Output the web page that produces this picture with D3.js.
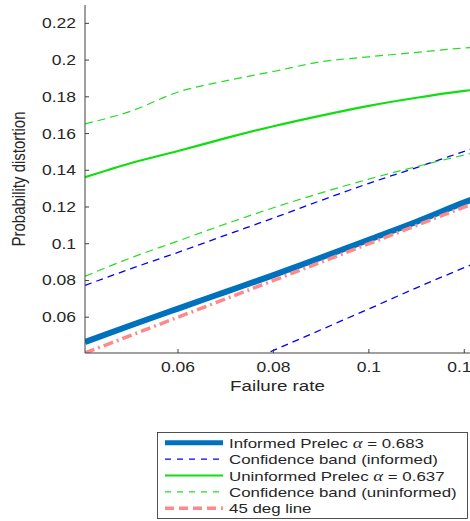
<!DOCTYPE html>
<html lang="en">
<head>
<meta charset="UTF-8">
<title>Probability distortion</title>
<style>
  body { margin: 0; background: #fff; }
  text { font-family: "Liberation Sans", Arial, sans-serif; fill: #262626; }
</style>
</head>
<body>
<svg width="470" height="521"></svg>
<script src="https://d3js.org/d3.v7.min.js"></script>
<script>
// failure rate grid (x)
const failRate = [0.0405, 0.05, 0.06, 0.07, 0.08, 0.09, 0.10, 0.11, 0.12, 0.1225];

// series
const informed      = [0.0465, 0.0555, 0.0647, 0.0738, 0.0829, 0.0925, 0.1022, 0.1120, 0.1225, 0.1250];
const informedHi    = [0.0773, 0.0863, 0.0953, 0.1047, 0.1140, 0.1236, 0.1329, 0.1415, 0.1503, 0.1525];
const informedLo    = [-0.005, 0.0070, 0.0185, 0.0302, 0.0419, 0.0532, 0.0645, 0.0760, 0.0870, 0.0897];
const uninformed    = [0.1362, 0.1438, 0.1505, 0.1575, 0.1640, 0.1698, 0.1751, 0.1795, 0.1832, 0.1840];
const uninformedHi  = [0.1653, 0.1721, 0.1826, 0.1887, 0.1938, 0.1991, 0.2018, 0.2042, 0.2066, 0.2070];
const uninformedLo  = [0.0823, 0.0922, 0.1015, 0.1108, 0.1196, 0.1277, 0.1352, 0.1420, 0.1483, 0.1498];
const diag          = failRate.slice(); // 45 deg line, y = x

const xTicks = [0.06, 0.08, 0.10, 0.12];
const xTickLabels = ["0.06", "0.08", "0.1", "0.12"];
const yTicks = [0.06, 0.08, 0.10, 0.12, 0.14, 0.16, 0.18, 0.20, 0.22];
const yTickLabels = ["0.06", "0.08", "0.1", "0.12", "0.14", "0.16", "0.18", "0.2", "0.22"];

const legendLabels = [
  ["Informed Prelec ", "α", " = 0.683"],
  ["Confidence band (informed)"],
  ["Uninformed Prelec ", "α", " = 0.637"],
  ["Confidence band (uninformed)"],
  ["45 deg line"]
];

const svg = d3.select("svg");
const pL = 85, pR = 470, pT = 5, pB = 353;
const SX = 1.25; // text in the original is stretched sideways

const x = d3.scaleLinear().domain([0.0405, 0.1212]).range([pL, pR]);
const y = d3.scaleLinear().domain([0.0405, 0.23]).range([pB, pT]);

svg.append("defs").append("clipPath").attr("id", "plot")
  .append("rect").attr("x", pL).attr("y", pT)
  .attr("width", pR - pL).attr("height", pB - pT);

// line styles
const styles = [
  { data: informedHi,   color: "#0000ff", width: 1.3, dash: "7,5" },
  { data: informedLo,   color: "#0000ff", width: 1.3, dash: "7,5" },
  { data: uninformedHi, color: "#22dd22", width: 1.2, dash: "8,5" },
  { data: uninformedLo, color: "#22dd22", width: 1.2, dash: "8,5" },
  { data: uninformed,   color: "#11dd11", width: 2.2, dash: null },
  { data: informed,     color: "#0072bd", width: 6,   dash: null },
  { data: diag,         color: "#ff8888", width: 3.5, dash: "10,4,2,4" }
];

const line = d3.line().x((d, i) => x(failRate[i])).y(d => y(d)).curve(d3.curveMonotoneX);
const plot = svg.append("g").attr("clip-path", "url(#plot)");
plot.selectAll("path").data(styles).join("path")
  .attr("d", s => line(s.data))
  .attr("fill", "none")
  .attr("stroke", s => s.color)
  .attr("stroke-width", s => s.width)
  .attr("stroke-dasharray", s => s.dash);

function stretchedText(g, tx, ty, str, size, anchor) {
  return g.append("text")
    .attr("transform", `translate(${tx},${ty}) scale(${SX},1)`)
    .attr("font-size", size)
    .attr("text-anchor", anchor)
    .text(str);
}

// axes, ticks point inward like matlab
const axes = svg.append("g");
axes.append("line").attr("x1", pL).attr("x2", pL).attr("y1", pT).attr("y2", pB)
  .attr("stroke", "#404040");
axes.append("line").attr("x1", pL).attr("x2", pR).attr("y1", pB).attr("y2", pB)
  .attr("stroke", "#404040");

yTicks.forEach((t, i) => {
  axes.append("line").attr("x1", pL).attr("x2", pL + 4)
    .attr("y1", y(t)).attr("y2", y(t)).attr("stroke", "#404040");
  stretchedText(axes, pL - 9, y(t) + 5, yTickLabels[i], 14, "end");
});
xTicks.forEach((t, i) => {
  axes.append("line").attr("x1", x(t)).attr("x2", x(t))
    .attr("y1", pB).attr("y2", pB - 4).attr("stroke", "#404040");
  stretchedText(axes, x(t), pB + 19, xTickLabels[i], 14, "middle");
});

stretchedText(axes, (pL + pR) / 2, 391, "Failure rate", 15, "middle");
axes.append("text")
  .attr("transform", `translate(25,${(pT + pB) / 2}) rotate(-90) scale(1,${SX})`)
  .attr("font-size", 15)
  .attr("text-anchor", "middle")
  .text("Probability distortion");

// legend
const leg = svg.append("g");
leg.append("rect").attr("x", 157.5).attr("y", 432.5).attr("width", 310).attr("height", 86)
  .attr("fill", "#fff").attr("stroke", "#262626").attr("stroke-width", 0.8);

const legStyles = [styles[5], styles[0], styles[4], styles[2], styles[6]];
const legDash = [null, "6,6", null, "6,6", "9,5"];
legendLabels.forEach((parts, i) => {
  const ry = 442.7 + i * 16.4;
  const s = legStyles[i];
  leg.append("line").attr("x1", 165).attr("x2", 223).attr("y1", ry).attr("y2", ry)
    .attr("stroke", s.color).attr("stroke-width", i === 0 ? 5 : (i === 4 ? 3.5 : s.width))
    .attr("stroke-dasharray", legDash[i]);
  const t = leg.append("text")
    .attr("transform", `translate(229,${ry + 5}) scale(${SX},1)`)
    .attr("font-size", 13.5);
  parts.forEach(p => {
    const ts = t.append("tspan").text(p);
    if (p === "α") ts.attr("font-family", "'Liberation Serif', serif").attr("font-style", "italic").attr("font-size", 15);
  });
});
</script>
</body>
</html>
